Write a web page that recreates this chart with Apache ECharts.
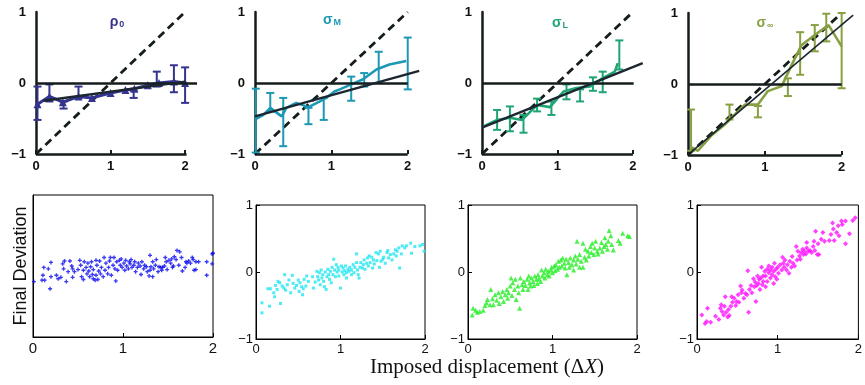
<!DOCTYPE html>
<html>
<head>
<meta charset="utf-8">
<script src="https://cdn.jsdelivr.net/npm/echarts@6/dist/echarts.min.js"></script>
<style>
  html, body { margin: 0; background: #fff; }
  #chart { width: 865px; height: 385px; }
</style>
</head>
<body>
<div id="chart"></div>
<script>
// ---- top row: mean deviation curves with error bars ----
const rhoLineX = [0.02, 0.18, 0.36, 0.57, 0.75, 1.0, 1.2, 1.32, 1.5, 1.65, 1.85, 2.0];
const rhoLineY = [-0.30, -0.19, -0.27, -0.19, -0.21, -0.14, -0.10, -0.08, -0.03, 0.0, 0.02, 0.0];
const rhoErrX = [0.02, 0.18, 0.37, 0.57, 1.31, 1.62, 1.85, 2.0];
const rhoErrLo = [-0.52, -0.26, -0.36, -0.21, -0.21, -0.05, -0.13, -0.28];
const rhoErrHi = [-0.05, -0.02, -0.26, -0.05, -0.11, 0.16, 0.25, 0.22];
const rhoFitX = [0.1, 2.0];
const rhoFitY = [-0.25, 0.02];

const sigMLineX = [0.02, 0.11, 0.2, 0.26, 0.35, 0.41, 0.54, 0.7, 0.85, 0.93, 1.04, 1.11, 1.26, 1.41, 1.59, 1.76, 1.98];
const sigMLineY = [-0.50, -0.45, -0.35, -0.40, -0.47, -0.35, -0.28, -0.34, -0.26, -0.21, -0.12, -0.09, -0.02, 0.05, 0.19, 0.26, 0.31];
const sigMErrX = [0.01, 0.2, 0.37, 0.7, 0.9, 1.26, 1.43, 1.62, 2.0];
const sigMErrLo = [-0.98, -0.40, -0.89, -0.58, -0.52, -0.25, -0.05, 0.0, -0.09];
const sigMErrHi = [-0.08, -0.14, -0.21, -0.35, -0.21, 0.09, 0.14, 0.44, 0.64];
const sigMFitX = [0.0, 2.15];
const sigMFitY = [-0.47, 0.17];

const sigLLineX = [0.02, 0.2, 0.37, 0.53, 0.73, 0.9, 1.08, 1.25, 1.43, 1.6, 1.76, 1.8];
const sigLLineY = [-0.61, -0.52, -0.49, -0.52, -0.31, -0.34, -0.12, -0.07, -0.05, 0.07, 0.16, 0.28];
const sigLErrX = [0.2, 0.37, 0.55, 0.73, 0.92, 1.12, 1.3, 1.47, 1.6, 1.82];
const sigLErrLo = [-0.66, -0.68, -0.70, -0.40, -0.45, -0.23, -0.26, -0.11, -0.13, 0.19];
const sigLErrHi = [-0.38, -0.33, -0.45, -0.22, -0.26, -0.02, -0.09, 0.08, 0.16, 0.60];
const sigLFitX = [0.0, 2.13];
const sigLFitY = [-0.63, 0.28];

const sigInfLineX = [0.04, 0.13, 0.3, 0.48, 0.61, 0.74, 0.91, 1.04, 1.22, 1.35, 1.48, 1.65, 1.83, 2.0];
const sigInfLineY = [-0.89, -0.94, -0.73, -0.57, -0.43, -0.29, -0.29, -0.10, -0.03, 0.27, 0.55, 0.69, 0.83, 0.53];
const sigInfErrX = [0.04, 0.54, 0.91, 1.3, 1.46, 1.65, 1.8, 2.0];
const sigInfErrLo = [-0.94, -0.50, -0.47, -0.17, 0.13, 0.46, 0.60, -0.06];
const sigInfErrHi = [-0.36, -0.29, -0.31, 0.08, 0.73, 0.83, 0.99, 1.0];
const sigInfFitX = [0.04, 2.15];
const sigInfFitY = [-0.96, 0.97];

// identity line (final deviation = displacement - 1)
const idealX = [0, 2];
const idealY = [-1, 1];
const zeroLineEnd = [2.16, 2.0, 2.01, 2.0];
const baseLineEnd = [2.02, 2.0, 2.0, 2.0];

// ---- bottom row: individual trials ----
const rhoPts = [[0.01,-0.22],[0.10,-0.20],[0.13,-0.20],[0.12,-0.02],[0.11,-0.13],[0.17,-0.04],[0.19,-0.32],[0.20,0.05],[0.20,-0.15],[0.26,-0.13],[0.28,-0.18],[0.31,-0.16],[0.33,0.03],[0.34,-0.04],[0.35,0.07],[0.37,-0.22],[0.39,-0.08],[0.41,0.07],[0.43,0.0],[0.44,-0.16],[0.44,-0.04],[0.46,-0.08],[0.50,-0.05],[0.52,0.08],[0.53,0.01],[0.54,-0.15],[0.56,-0.19],[0.56,-0.06],[0.57,0.06],[0.59,-0.02],[0.60,-0.11],[0.61,0.04],[0.62,-0.07],[0.63,-0.15],[0.64,-0.01],[0.65,0.06],[0.66,-0.12],[0.67,-0.18],[0.67,-0.05],[0.69,-0.20],[0.70,0.08],[0.70,-0.13],[0.71,0.01],[0.72,-0.19],[0.73,-0.07],[0.74,0.07],[0.75,-0.11],[0.76,-0.02],[0.78,-0.15],[0.79,0.12],[0.80,-0.06],[0.81,0.04],[0.83,-0.11],[0.84,-0.02],[0.85,0.07],[0.86,0.12],[0.87,-0.13],[0.89,0.01],[0.90,0.12],[0.91,-0.04],[0.92,-0.21],[0.93,0.06],[0.94,-0.06],[0.96,0.08],[0.97,0.01],[0.98,0.10],[0.99,-0.02],[1.01,0.04],[1.02,-0.06],[1.03,0.08],[1.04,0.0],[1.06,-0.04],[1.07,0.06],[1.08,0.03],[1.09,0.09],[1.10,-0.02],[1.12,0.01],[1.13,0.06],[1.14,-0.08],[1.16,-0.02],[1.17,0.04],[1.19,0.0],[1.20,-0.12],[1.21,0.06],[1.23,-0.04],[1.24,0.01],[1.26,-0.01],[1.27,-0.08],[1.29,-0.14],[1.30,-0.06],[1.30,0.15],[1.31,-0.01],[1.33,0.06],[1.33,-0.15],[1.34,-0.04],[1.36,0.01],[1.37,0.09],[1.39,-0.08],[1.40,-0.01],[1.42,-0.02],[1.43,-0.06],[1.44,-0.02],[1.46,0.0],[1.47,0.12],[1.48,0.06],[1.49,-0.05],[1.51,0.08],[1.53,0.04],[1.54,0.10],[1.55,-0.02],[1.56,0.0],[1.57,0.13],[1.59,0.09],[1.60,0.22],[1.62,0.01],[1.63,0.20],[1.65,0.12],[1.66,-0.07],[1.69,-0.02],[1.70,0.06],[1.71,0.04],[1.73,0.07],[1.75,0.04],[1.77,0.12],[1.78,0.09],[1.79,-0.06],[1.81,-0.05],[1.81,0.06],[1.84,0.06],[1.93,0.06],[1.93,-0.13],[1.99,0.17],[2.0,0.18],[1.99,0.03]];

const sigMPts = [[0.07,-0.46],[0.07,-0.61],[0.14,-0.25],[0.17,-0.25],[0.16,-0.51],[0.21,-0.31],[0.22,-0.37],[0.23,-0.20],[0.25,-0.26],[0.26,-0.14],[0.29,-0.47],[0.28,-0.16],[0.31,-0.21],[0.33,-0.24],[0.34,-0.04],[0.35,-0.27],[0.37,-0.19],[0.39,-0.12],[0.41,-0.31],[0.43,-0.05],[0.44,-0.17],[0.46,-0.24],[0.48,-0.20],[0.50,-0.12],[0.51,-0.29],[0.52,-0.16],[0.54,-0.22],[0.55,-0.34],[0.56,-0.25],[0.57,-0.11],[0.59,-0.21],[0.60,-0.06],[0.62,-0.14],[0.67,-0.07],[0.68,-0.24],[0.70,-0.15],[0.72,0.01],[0.73,-0.07],[0.74,-0.12],[0.75,-0.01],[0.76,-0.19],[0.77,0.03],[0.78,-0.09],[0.79,-0.04],[0.80,-0.14],[0.81,-0.22],[0.82,0.0],[0.83,-0.26],[0.84,-0.07],[0.85,0.04],[0.86,-0.04],[0.87,-0.11],[0.88,0.01],[0.89,-0.16],[0.90,0.07],[0.91,-0.04],[0.92,0.19],[0.93,0.03],[0.94,-0.07],[0.95,0.11],[0.96,0.0],[0.97,0.07],[0.98,-0.06],[0.98,0.03],[1.0,-0.24],[1.01,0.09],[1.02,0.0],[1.03,0.06],[1.04,-0.04],[1.05,0.02],[1.06,0.09],[1.07,-0.01],[1.07,-0.09],[1.09,0.04],[1.10,0.01],[1.11,0.07],[1.13,-0.04],[1.13,0.03],[1.15,0.11],[1.16,-0.01],[1.17,0.07],[1.19,0.14],[1.19,0.27],[1.20,0.03],[1.21,-0.04],[1.22,-0.09],[1.23,0.07],[1.24,0.14],[1.26,0.06],[1.27,0.11],[1.28,0.18],[1.29,0.04],[1.31,0.13],[1.32,0.21],[1.33,0.09],[1.34,0.24],[1.35,0.14],[1.37,0.22],[1.38,0.06],[1.39,0.18],[1.40,0.12],[1.42,0.29],[1.43,0.17],[1.45,0.27],[1.46,0.07],[1.47,0.31],[1.48,0.16],[1.50,0.19],[1.51,0.22],[1.53,0.13],[1.55,0.29],[1.56,0.32],[1.57,0.21],[1.59,0.26],[1.61,0.18],[1.63,0.27],[1.65,0.33],[1.66,0.24],[1.67,0.31],[1.69,0.36],[1.70,0.06],[1.72,0.27],[1.73,0.39],[1.76,0.36],[1.78,0.39],[1.83,0.43],[1.84,0.28],[1.88,0.38],[1.94,0.39],[1.97,0.41],[1.99,0.31]];

const sigLPts = [[0.05,-0.64],[0.06,-0.54],[0.09,-0.57],[0.11,-0.60],[0.14,-0.59],[0.18,-0.57],[0.20,-0.50],[0.22,-0.46],[0.23,-0.41],[0.26,-0.49],[0.27,-0.26],[0.29,-0.40],[0.30,-0.49],[0.32,-0.34],[0.34,-0.42],[0.36,-0.31],[0.37,-0.47],[0.39,-0.37],[0.41,-0.29],[0.42,-0.44],[0.44,-0.34],[0.46,-0.26],[0.47,-0.39],[0.48,-0.31],[0.50,-0.21],[0.51,-0.09],[0.52,-0.35],[0.53,-0.16],[0.55,-0.26],[0.56,-0.11],[0.57,-0.41],[0.59,-0.21],[0.60,-0.31],[0.61,-0.54],[0.62,-0.09],[0.64,-0.19],[0.65,-0.26],[0.66,-0.14],[0.68,-0.20],[0.70,-0.11],[0.71,-0.26],[0.72,-0.06],[0.73,-0.16],[0.74,-0.21],[0.75,-0.09],[0.77,-0.14],[0.78,-0.20],[0.79,-0.06],[0.81,-0.11],[0.82,-0.17],[0.83,-0.04],[0.84,-0.10],[0.86,-0.14],[0.87,0.03],[0.88,-0.06],[0.90,-0.01],[0.91,-0.09],[0.92,0.04],[0.94,-0.04],[0.95,0.01],[0.96,-0.06],[0.98,0.03],[0.99,0.07],[1.00,-0.01],[1.02,0.09],[1.03,0.02],[1.04,0.11],[1.06,0.04],[1.07,0.16],[1.08,0.07],[1.10,0.18],[1.11,0.09],[1.12,0.21],[1.14,0.13],[1.15,0.06],[1.16,0.19],[1.17,-0.04],[1.19,0.14],[1.20,0.07],[1.21,0.21],[1.23,0.11],[1.25,0.03],[1.25,0.18],[1.27,0.24],[1.28,0.12],[1.29,0.46],[1.30,0.19],[1.32,0.07],[1.32,0.26],[1.34,0.16],[1.36,0.43],[1.36,0.07],[1.38,0.22],[1.39,0.34],[1.40,0.18],[1.42,0.31],[1.43,0.24],[1.45,0.38],[1.46,0.29],[1.47,0.43],[1.49,0.26],[1.50,0.36],[1.51,0.46],[1.53,0.31],[1.54,0.27],[1.56,0.36],[1.58,0.44],[1.59,0.31],[1.61,0.38],[1.62,0.51],[1.63,0.41],[1.65,0.34],[1.66,0.46],[1.67,0.62],[1.69,0.54],[1.70,0.41],[1.72,0.33],[1.78,0.47],[1.80,0.43],[1.83,0.58],[1.89,0.54],[1.91,0.53]];

const sigInfPts = [[0.06,-0.64],[0.10,-0.77],[0.12,-0.74],[0.13,-0.54],[0.17,-0.75],[0.23,-0.66],[0.27,-0.71],[0.29,-0.54],[0.30,-0.49],[0.31,-0.59],[0.33,-0.64],[0.34,-0.51],[0.35,-0.37],[0.36,-0.60],[0.38,-0.67],[0.39,-0.56],[0.40,-0.65],[0.42,-0.51],[0.43,-0.37],[0.44,-0.45],[0.46,-0.39],[0.48,-0.50],[0.49,-0.44],[0.51,-0.34],[0.52,-0.45],[0.54,-0.21],[0.55,-0.31],[0.56,-0.27],[0.58,-0.39],[0.60,-0.32],[0.62,-0.34],[0.63,0.02],[0.64,-0.60],[0.65,-0.26],[0.67,-0.20],[0.68,-0.31],[0.70,-0.10],[0.71,-0.22],[0.72,-0.15],[0.73,-0.44],[0.74,-0.20],[0.75,-0.06],[0.76,-0.17],[0.77,-0.11],[0.78,-0.26],[0.79,-0.09],[0.80,0.07],[0.81,-0.19],[0.82,-0.06],[0.82,-0.14],[0.84,0.01],[0.85,-0.22],[0.85,-0.06],[0.87,0.04],[0.87,-0.14],[0.89,-0.01],[0.89,0.09],[0.91,-0.09],[0.91,0.03],[0.93,-0.04],[0.93,0.07],[0.95,-0.17],[0.95,0.01],[0.96,0.13],[0.97,-0.07],[0.98,0.04],[0.99,-0.11],[1.00,0.07],[1.01,-0.02],[1.03,0.11],[1.05,0.03],[1.06,0.22],[1.07,0.13],[1.08,0.07],[1.09,0.18],[1.11,0.03],[1.12,0.11],[1.14,-0.02],[1.15,0.16],[1.17,0.07],[1.18,0.23],[1.19,0.13],[1.21,0.09],[1.23,0.38],[1.24,0.18],[1.25,0.31],[1.27,0.24],[1.28,0.19],[1.29,0.29],[1.31,0.34],[1.32,0.26],[1.33,0.31],[1.35,0.27],[1.36,0.36],[1.36,0.44],[1.38,0.31],[1.40,0.32],[1.42,0.29],[1.44,0.38],[1.45,0.46],[1.46,0.32],[1.47,0.61],[1.49,0.26],[1.50,0.42],[1.51,0.26],[1.54,0.49],[1.56,0.59],[1.58,0.46],[1.64,0.47],[1.66,0.56],[1.68,0.73],[1.69,0.64],[1.70,0.47],[1.73,0.59],[1.75,0.69],[1.76,0.54],[1.79,0.76],[1.80,0.71],[1.84,0.42],[1.84,0.76],[1.89,0.57],[1.93,0.77],[1.96,0.81]];

const xTicks = [0, 1, 2];
const yTicks = [-1, 0, 1];

const topTitles = ['{g|ρ}{s|0}', '{g|σ}{s|M}', '{g|σ}{s|L}', '{g|σ}{s|∞}'];
const topColors = ['#34348e', '#1d98b4', '#1fa574', '#86a042'];
const dotColors = ['#0a0af0', '#22e6f2', '#22ee22', '#ff10ff'];

const topData = [
  { lx: rhoLineX, ly: rhoLineY, ex: rhoErrX, elo: rhoErrLo, ehi: rhoErrHi, fx: rhoFitX, fy: rhoFitY },
  { lx: sigMLineX, ly: sigMLineY, ex: sigMErrX, elo: sigMErrLo, ehi: sigMErrHi, fx: sigMFitX, fy: sigMFitY },
  { lx: sigLLineX, ly: sigLLineY, ex: sigLErrX, elo: sigLErrLo, ehi: sigLErrHi, fx: sigLFitX, fy: sigLFitY },
  { lx: sigInfLineX, ly: sigInfLineY, ex: sigInfErrX, elo: sigInfErrLo, ehi: sigInfErrHi, fx: sigInfFitX, fy: sigInfFitY }
];
const bottomData = [rhoPts, sigMPts, sigLPts, sigInfPts];

const zip = (xs, ys) => xs.map((x, i) => [x, ys[i]]);
const minus = v => String(v).replace('-', '\u2212');

// layout
const topGrids = [
  { left: 36, top: 12, width: 164, height: 142 },
  { left: 255, top: 12, width: 168, height: 142 },
  { left: 482, top: 12, width: 166, height: 142 },
  { left: 688, top: 13, width: 169, height: 142 }
];
const bottomGrids = [
  { left: 33, top: 195, width: 180, height: 142 },
  { left: 256, top: 205, width: 169, height: 134 },
  { left: 468, top: 205, width: 169, height: 134 },
  { left: 697, top: 205, width: 170, height: 134 }
];
const titlePos = [[117, 22], [332, 20], [560, 23], [765, 23]];

const axisInk = '#141c1c';
const sans = "'Liberation Sans', Arial, sans-serif";

const grid = [], xAxis = [], yAxis = [], series = [], graphic = [];

topGrids.forEach((g, i) => {
  grid.push(Object.assign({ containLabel: false }, g));
  xAxis.push({
    gridIndex: i, type: 'value', min: 0, max: 2.2, interval: 1,
    axisLine: { show: false, onZero: false },
    axisTick: { show: true, inside: true, length: 4, customValues: xTicks, lineStyle: { color: axisInk, width: 2 } },
    axisLabel: {
      margin: 6, fontFamily: sans, fontWeight: 'bold', fontSize: 13, color: '#111',
      customValues: xTicks
    },
    splitLine: { show: false }
  });
  yAxis.push({
    gridIndex: i, type: 'value', min: -1, max: 1, interval: 1,
    axisLine: { show: true, onZero: false, lineStyle: { color: axisInk, width: 2.5 } },
    axisTick: { show: false },
    axisLabel: { margin: 10, fontFamily: sans, fontWeight: 'bold', fontSize: 13, color: '#111', formatter: minus },
    splitLine: { show: false }
  });
  const d = topData[i];
  const col = topColors[i];
  // frame lines at y = 0 and y = -1
  series.push({
    type: 'line', xAxisIndex: i, yAxisIndex: i, data: [], silent: true,
    markLine: {
      symbol: ['none', 'none'], silent: true, label: { show: false },
      lineStyle: { color: axisInk, width: 2.5, type: 'solid' },
      data: [
        [{ coord: [0, 0] }, { coord: [zeroLineEnd[i], 0] }],
        [{ coord: [0, -1] }, { coord: [baseLineEnd[i], -1] }]
      ]
    }
  });
  // identity line
  series.push({
    type: 'line', xAxisIndex: i, yAxisIndex: i, data: zip(idealX, idealY),
    showSymbol: false, silent: true, z: 2,
    lineStyle: { color: axisInk, width: 2.8, type: [8, 5] }
  });
  // mean curve
  series.push({
    type: 'line', xAxisIndex: i, yAxisIndex: i, data: zip(d.lx, d.ly),
    showSymbol: i === 0, symbol: 'triangle', symbolSize: 8, silent: true, z: 3,
    itemStyle: { color: col },
    lineStyle: { color: col, width: i === 0 ? 3 : 2.6 }
  });
  // error bars
  series.push({
    type: 'custom', xAxisIndex: i, yAxisIndex: i, silent: true, z: 4,
    data: d.ex.map((x, k) => [x, d.elo[k], d.ehi[k]]),
    encode: { x: 0, y: [1, 2] },
    renderItem: (params, api) => {
      const a = api.coord([api.value(0), api.value(1)]);
      const b = api.coord([api.value(0), api.value(2)]);
      const w = 4;
      const st = { stroke: col, lineWidth: 2 };
      return {
        type: 'group', children: [
          { type: 'line', shape: { x1: a[0], y1: a[1], x2: b[0], y2: b[1] }, style: st },
          { type: 'line', shape: { x1: a[0] - w, y1: a[1], x2: a[0] + w, y2: a[1] }, style: st },
          { type: 'line', shape: { x1: b[0] - w, y1: b[1], x2: b[0] + w, y2: b[1] }, style: st }
        ]
      };
    }
  });
  // linear fit
  series.push({
    type: 'line', xAxisIndex: i, yAxisIndex: i, data: zip(d.fx, d.fy),
    showSymbol: false, silent: true, z: 5,
    lineStyle: { color: '#1c2630', width: i === 3 ? 1.6 : 2.4 }
  });
  graphic.push({
    type: 'text', x: titlePos[i][0], y: titlePos[i][1],
    style: {
      text: topTitles[i], align: 'center', verticalAlign: 'middle',
      rich: {
        g: { fontFamily: sans, fontSize: 14, fontWeight: 'bold', fill: col },
        s: { fontFamily: sans, fontSize: 9, fontWeight: 'bold', fill: col, padding: [6, 0, 0, 1] }
      }
    }
  });
});

const symbols = [
  'path://M1,0h1v1h1v1h-1v1h-1v-1h-1v-1h1z',
  'rect',
  'triangle',
  'diamond'
];
const symbolSizes = [4, 3, 5, 5];

bottomGrids.forEach((g, j) => {
  const i = j + 4;
  grid.push(Object.assign({ show: true, borderColor: '#000', borderWidth: 1, backgroundColor: '#fff' }, g));
  xAxis.push({
    gridIndex: i, type: 'value', min: 0, max: 2, interval: 1,
    axisLine: { show: true, onZero: false, lineStyle: { color: '#000', width: 1 } },
    axisTick: { show: true, inside: true, length: 4, lineStyle: { color: '#000' } },
    axisLabel: { margin: 4, fontFamily: sans, fontSize: j === 0 ? 15 : 13, color: '#111' },
    splitLine: { show: false }
  });
  yAxis.push({
    gridIndex: i, type: 'value', min: -1, max: 1, interval: 1,
    axisLine: { show: true, onZero: false, lineStyle: { color: '#000', width: 1 } },
    axisTick: { show: j !== 0, inside: true, length: 4, lineStyle: { color: '#000' } },
    axisLabel: { show: j !== 0, margin: 3, fontFamily: sans, fontSize: 13, color: '#111', formatter: minus },
    splitLine: { show: false }
  });
  series.push({
    type: 'scatter', xAxisIndex: i, yAxisIndex: i, data: bottomData[j],
    symbol: symbols[j], symbolSize: symbolSizes[j], silent: true,
    itemStyle: { color: dotColors[j] }
  });
});

graphic.push({
  type: 'text', x: 21, y: 266, rotation: Math.PI / 2,
  style: { text: 'Final Deviation', fontFamily: sans, fontSize: 18, fill: '#111', align: 'center', verticalAlign: 'middle' }
});
graphic.push({
  type: 'text', x: 487, y: 367,
  style: {
    text: '{n|Imposed displacement (Δ}{i|X}{n|)}', align: 'center', verticalAlign: 'middle',
    rich: {
      n: { fontFamily: "'Liberation Serif', 'Times New Roman', serif", fontSize: 21, fill: '#111' },
      i: { fontFamily: "'Liberation Serif', 'Times New Roman', serif", fontSize: 21, fontStyle: 'italic', fill: '#111' }
    }
  }
});

const chart = echarts.init(document.getElementById('chart'), null, { renderer: 'canvas' });
chart.setOption({
  animation: false,
  backgroundColor: '#fff',
  grid, xAxis, yAxis, series, graphic
});
</script>
</body>
</html>
